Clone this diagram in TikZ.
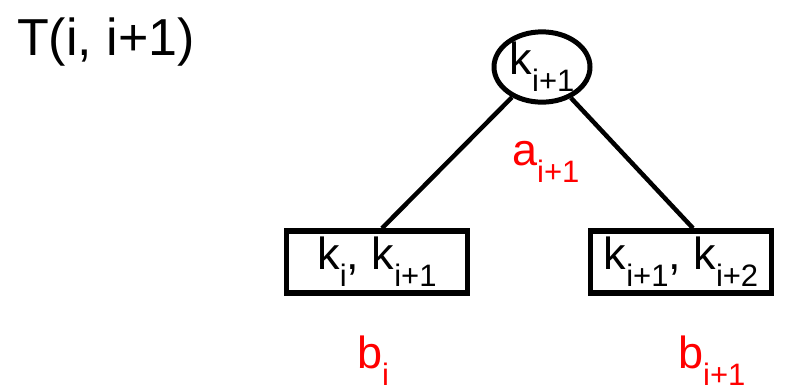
\documentclass[tikz,border=0pt]{standalone}
\usepackage{fontspec}
\setmainfont{Liberation Sans}
\usetikzlibrary{shapes.geometric}
\newcommand{\sbs}[1]{\raisebox{-0.38em}{\fontsize{31}{31}\selectfont #1}}
\begin{document}
\begin{tikzpicture}[x=1pt,y=-1pt,
  lbl/.style={font=\fontsize{45}{48}\selectfont, inner sep=0pt},
  redlbl/.style={lbl, text=red},
  edge/.style={line width=4.5pt},
  keybox/.style={draw, line width=5.5pt, minimum width=181pt, minimum height=62pt, inner sep=0pt, font=\fontsize{45}{48}\selectfont},
  keyell/.style={draw, ellipse, line width=5pt, minimum width=96pt, minimum height=66pt, inner sep=0pt, font=\fontsize{45}{48}\selectfont}]
\useasboundingbox (0,0) rectangle (789,389);
\node[lbl, font=\fontsize{52}{54}\selectfont, anchor=base west] (title) at (17,55) {T(i, i+1)};
\node[keyell] (root) at (542,67) {k\sbs{i+1}};
\node[keybox] (left) at (377,262) {k\sbs{i}, k\sbs{i+1}};
\node[keybox] (right) at (681,262) {k\sbs{i+1}, k\sbs{i+2}};
\node[redlbl, anchor=base west] (a) at (512,165) {a\sbs{i+1}};
\node[redlbl, anchor=base west] (bl) at (357,368) {b\sbs{i}};
\node[redlbl, anchor=base west] (br) at (678,368) {b\sbs{i+1}};
\coordinate (lt) at ([xshift=5pt]left.north);
\coordinate (rt) at ([xshift=12pt]right.north);
\draw[edge] (root) -- (lt);
\draw[edge] (root) -- (rt);
\end{tikzpicture}
\end{document}
